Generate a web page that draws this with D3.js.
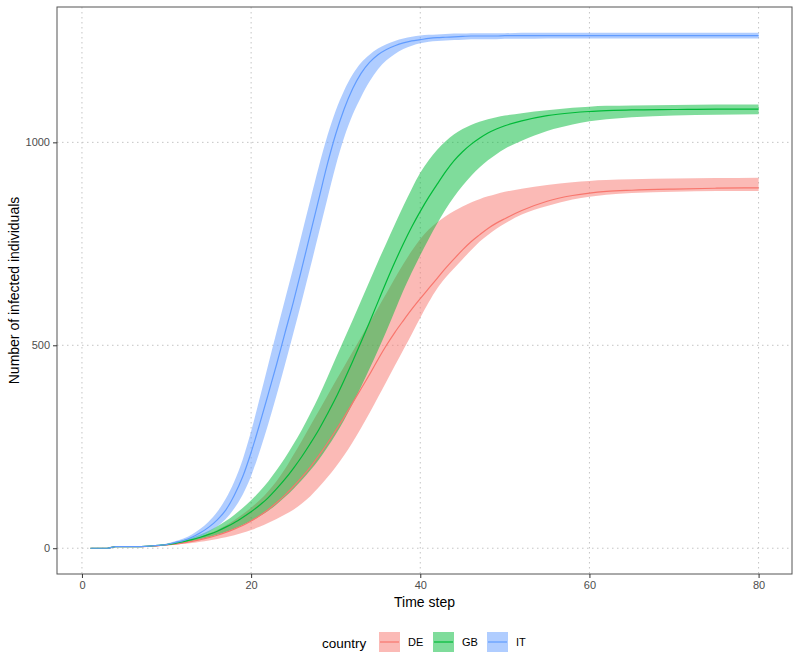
<!DOCTYPE html>
<html lang="en">
	<head>
		<meta charset="UTF-8">
		<title>Infected individuals by country</title>
		<script src="https://d3js.org/d3.v7.min.js"></script>
		<style>
			body { margin: 0; background: white; }
			text { font-family: 'Liberation Sans', Arial, Helvetica, sans-serif; }
		</style>
	</head>
	<body>
		<div id="my_dataviz"></div>
		<script>
			// DATA ///////////////////////////////////////////////////////////
			var timeSteps = [1,2,3,4,5,6,7,8,9,10,11,12,13,14,15,16,17,18,19,20,
				21,22,23,24,25,26,27,28,29,30,31,32,33,34,35,36,37,38,39,40,
				41,42,43,44,45,46,47,48,49,50,52,55,58,60,62,65,70,75,80];

			var countries = ["DE", "GB", "IT"];

			var deMean = [0,0,0,4,4,4,4,5,6,8, 10,13,17,21,26,32,39,47,56,67,
				80,95,112,131,152,175,200,228,258,290, 323,358,393,428,465,500,532,561,589,615,
				640,665,690,713,735,755,772,788,801,812, 832,855,869,875,879,882,885,887,888];
			var deLow = [0,0,0,4,4,4,4,5,6,7, 9,11,13,16,19,23,27,32,38,45,
				53,62,72,83,95,110,128,150,174,200, 229,261,296,333,372,411,450,489,528,568,
				606,640,667,690,712,734,755,772,787,800, 822,843,859,866,871,875,878,880,880];
			var deHigh = [0,0,0,4,4,4,4,5,7,10, 13,17,22,28,36,45,56,69,84,100,
				118,140,165,195,230,265,302,338,375,412, 448,484,520,556,592,628,665,700,733,762,
				785,803,818,831,842,852,860,867,873,878, 886,895,902,905,907,909,911,912,913];

			var gbMean = [0,0,0,4,4,4,4,5,7,9, 12,16,21,27,34,42,52,63,76,90,
				106,124,146,170,197,226,258,292,330,370, 414,460,508,557,607,657,705,750,792,830,
				865,897,928,955,977,995,1010,1023,1033,1041, 1053,1066,1073,1076,1078,1080,1081,1082,1082];
			var gbLow = [0,0,0,4,4,4,4,5,6,8, 10,13,17,22,27,33,40,48,57,67,
				79,92,108,126,146,168,192,218,248,280, 316,356,398,442,488,535,585,635,680,722,
				762,800,835,866,893,917,938,956,971,984, 1004,1028,1044,1052,1057,1062,1066,1068,1069];
			var gbHigh = [0,0,0,4,4,4,4,5,8,11, 15,20,26,34,43,54,67,82,99,118,
				140,164,192,222,256,292,332,374,420,468, 515,562,610,658,706,752,798,843,886,925,
				956,982,1003,1020,1033,1043,1051,1057,1062,1066, 1072,1079,1085,1088,1090,1091,1092,1093,1093];

			var itMean = [0,0,0,4,4,4,4,5,7,9, 14,19,27,38,52,70,94,130,176,236,
				305,378,452,530,607,690,775,860,945,1020, 1082,1132,1170,1197,1216,1229,1238,1245,1250,1253,
				1256,1258,1259,1260,1261,1262,1262,1262,1262,1263, 1263,1263,1263,1263,1263,1263,1263,1263,1263];
			var itLow = [0,0,0,4,4,4,4,5,6,8, 11,15,21,29,40,54,72,98,132,178,
				238,304,376,452,530,610,692,776,860,942, 1012,1068,1112,1150,1180,1202,1218,1230,1238,1244,
				1248,1250,1251,1252,1253,1254,1254,1254,1254,1255, 1255,1256,1256,1256,1256,1256,1256,1256,1256];
			var itHigh = [0,0,0,4,4,4,4,6,8,11, 17,24,34,48,66,90,122,164,218,288,
				368,450,532,612,692,775,858,940,1015,1078, 1128,1167,1196,1216,1231,1242,1250,1256,1260,1263,
				1265,1266,1267,1268,1268,1269,1269,1269,1269,1269, 1270,1270,1270,1270,1270,1270,1270,1270,1270];

			var xTicks = [0, 20, 40, 60, 80];
			var yTicks = [0, 500, 1000];

			var colors = { DE: "#F8766D", GB: "#00BA38", IT: "#619CFF" };
			var series = [
				{ name: "DE", mean: deMean, low: deLow, high: deHigh },
				{ name: "GB", mean: gbMean, low: gbLow, high: gbHigh },
				{ name: "IT", mean: itMean, low: itLow, high: itHigh }
			];

			// LAYOUT ///////////////////////////////////////////////////////////
			var width = 800, height = 656;
			var panelLeft = 57, panelRight = 792, panelTop = 7, panelBottom = 574;

			var svg = d3.select("#my_dataviz")
				.append("svg")
				.attr("width", width)
				.attr("height", height)
				.attr("style", "background: white;");

			// ggplot style 5% expansion
			var xSpan = 80 - 1;
			var x = d3.scaleLinear()
				.domain([1 - xSpan * 0.05, 80 + xSpan * 0.05])
				.range([panelLeft, panelRight]);
			var yMax = d3.max(itHigh);
			var y = d3.scaleLinear()
				.domain([-yMax * 0.05, yMax * 1.05])
				.range([panelBottom, panelTop]);

			// grid
			var grid = svg.append("g");
			grid.selectAll(".gx")
				.data(xTicks)
				.enter()
				.append("line")
				.attr("x1", function (d) { return x(d); })
				.attr("x2", function (d) { return x(d); })
				.attr("y1", panelTop)
				.attr("y2", panelBottom)
				.attr("stroke", "#c4c4c4")
				.attr("stroke-width", 1)
				.attr("stroke-dasharray", "1.5,3.5");
			grid.selectAll(".gy")
				.data(yTicks)
				.enter()
				.append("line")
				.attr("x1", panelLeft)
				.attr("x2", panelRight)
				.attr("y1", function (d) { return y(d); })
				.attr("y2", function (d) { return y(d); })
				.attr("stroke", "#c4c4c4")
				.attr("stroke-width", 1)
				.attr("stroke-dasharray", "1.5,3.5");

			// ribbons
			var area = d3.area()
				.curve(d3.curveMonotoneX)
				.x(function (d) { return x(d.t); })
				.y0(function (d) { return y(d.lo); })
				.y1(function (d) { return y(d.hi); });
			var line = d3.line()
				.curve(d3.curveMonotoneX)
				.x(function (d) { return x(d.t); })
				.y(function (d) { return y(d.m); });

			series.forEach(function (s) {
				s.points = timeSteps.map(function (t, i) {
					return { t: t, m: s.mean[i], lo: s.low[i], hi: s.high[i] };
				});
			});

			svg.append("g")
				.selectAll("path")
				.data(series)
				.enter()
				.append("path")
				.attr("d", function (s) { return area(s.points); })
				.attr("fill", function (s) { return colors[s.name]; })
				.attr("fill-opacity", 0.5)
				.attr("stroke", "none");

			svg.append("g")
				.selectAll("path")
				.data(series)
				.enter()
				.append("path")
				.attr("d", function (s) { return line(s.points); })
				.attr("fill", "none")
				.attr("stroke", function (s) { return colors[s.name]; })
				.attr("stroke-width", 1.2);

			// panel border
			svg.append("rect")
				.attr("x", panelLeft)
				.attr("y", panelTop)
				.attr("width", panelRight - panelLeft)
				.attr("height", panelBottom - panelTop)
				.attr("fill", "none")
				.attr("stroke", "#555555")
				.attr("stroke-width", 1);

			// axes
			var xAxis = svg.append("g")
				.attr("transform", "translate(0," + panelBottom + ")")
				.call(d3.axisBottom(x).tickValues(xTicks).tickSize(4).tickPadding(3));
			var yAxis = svg.append("g")
				.attr("transform", "translate(" + panelLeft + ",0)")
				.call(d3.axisLeft(y).tickValues(yTicks).tickFormat(d3.format("d")).tickSize(4).tickPadding(3));
			[xAxis, yAxis].forEach(function (a) {
				a.select(".domain").remove();
				a.selectAll(".tick line").attr("stroke", "#333333");
				a.selectAll(".tick text")
					.attr("fill", "#4d4d4d")
					.style("font-size", "11px")
					.style("font-family", "'Liberation Sans', Arial, sans-serif");
			});

			// titles
			svg.append("text")
				.attr("x", (panelLeft + panelRight) / 2)
				.attr("y", 607)
				.attr("text-anchor", "middle")
				.style("font-size", "14px")
				.attr("fill", "black")
				.text("Time step");
			svg.append("text")
				.attr("transform", "translate(19," + ((panelTop + panelBottom) / 2) + ") rotate(-90)")
				.attr("text-anchor", "middle")
				.style("font-size", "14px")
				.attr("fill", "black")
				.text("Number of infected individuals");

			// legend
			var legend = svg.append("g");
			legend.append("text")
				.attr("x", 322)
				.attr("y", 648)
				.style("font-size", "13.5px")
				.attr("fill", "black")
				.text("country");
			var keyX = [379, 433, 487];
			countries.forEach(function (c, i) {
				legend.append("rect")
					.attr("x", keyX[i])
					.attr("y", 632)
					.attr("width", 21)
					.attr("height", 20)
					.attr("fill", colors[c])
					.attr("fill-opacity", 0.5);
				legend.append("line")
					.attr("x1", keyX[i] + 1)
					.attr("x2", keyX[i] + 20)
					.attr("y1", 642)
					.attr("y2", 642)
					.attr("stroke", colors[c])
					.attr("stroke-width", 1.2);
				legend.append("text")
					.attr("x", keyX[i] + 29)
					.attr("y", 646)
					.style("font-size", "11px")
					.attr("fill", "black")
					.text(c);
			});
		</script>
	</body>
</html>
